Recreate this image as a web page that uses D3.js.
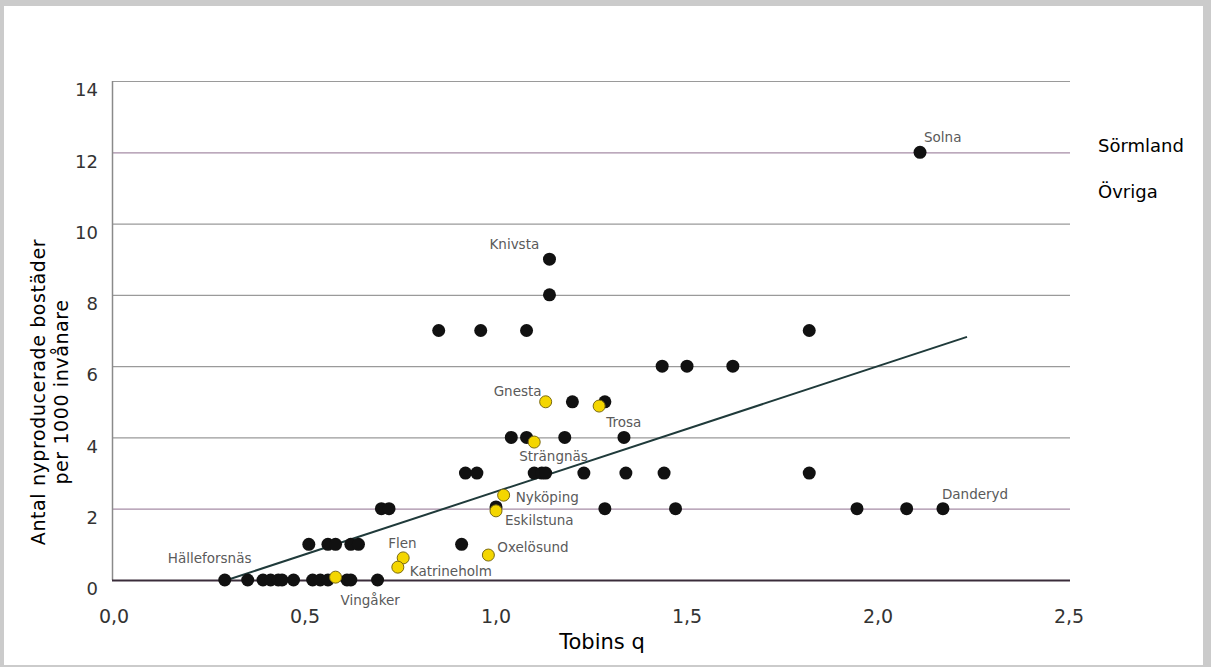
<!DOCTYPE html>
<html>
<head>
<meta charset="utf-8">
<script src="https://cdn.jsdelivr.net/npm/d3@7"></script>
<style>
  body { margin: 0; background: #cbcbcb; }
  svg { display: block; }
</style>
</head>
<body>
<div id="chart"></div>
<script>
// data
const xTicks = [0, 0.5, 1.0, 1.5, 2.0, 2.5]
const yTicks = [0, 2, 4, 6, 8, 10, 12, 14]

// Övriga (black) – [Tobins q, bostäder per 1000 inv]
const ovriga = [
  [0.29, 0], [0.35, 0], [0.39, 0], [0.41, 0], [0.43, 0], [0.44, 0], [0.47, 0],
  [0.52, 0], [0.54, 0], [0.56, 0], [0.61, 0], [0.62, 0], [0.69, 0],
  [0.51, 1], [0.56, 1], [0.58, 1], [0.62, 1], [0.64, 1], [0.91, 1],
  [0.70, 2], [0.72, 2], [1.00, 2.05], [1.285, 2], [1.47, 2], [1.945, 2], [2.075, 2], [2.17, 2],
  [0.92, 3], [0.95, 3], [1.10, 3], [1.12, 3], [1.13, 3], [1.23, 3], [1.34, 3], [1.44, 3], [1.82, 3],
  [1.04, 4], [1.08, 4], [1.18, 4], [1.335, 4],
  [1.20, 5], [1.285, 5],
  [1.435, 6], [1.50, 6], [1.62, 6],
  [0.85, 7], [0.96, 7], [1.08, 7], [1.82, 7],
  [1.14, 8], [1.14, 9], [2.11, 12]
]
const ovrigaNamed = [
  ["Hälleforsnäs", 0.29, 0], ["Knivsta", 1.14, 9], ["Solna", 2.11, 12], ["Danderyd", 2.17, 2]
]

// Sörmland (yellow)
const sormlandNames = ["Gnesta", "Trosa", "Strängnäs", "Nyköping", "Eskilstuna", "Oxelösund", "Flen", "Katrineholm", "Vingåker"]
const sormlandQ = [1.13, 1.27, 1.10, 1.02, 1.00, 0.98, 0.757, 0.743, 0.58]
const sormlandBost = [5.0, 4.88, 3.87, 2.38, 1.94, 0.70, 0.62, 0.36, 0.08]

const trend = [[0.296, 0], [2.233, 6.82]]
const legendLabels = ["Sörmland", "Övriga"]

// layout
const W = 1211, H = 667
const labelOffset = {
  "Hälleforsnäs": [-57, -22], "Vingåker": [5, 23], "Flen": [-15, -15],
  "Katrineholm": [12, 4], "Oxelösund": [9, -8], "Eskilstuna": [9, 9],
  "Nyköping": [12, 2], "Strängnäs": [-15, 14], "Trosa": [7, 16],
  "Gnesta": [-52, -11], "Knivsta": [-60, -15], "Solna": [4, -15], "Danderyd": [-1, -14]
}

const svg = d3.select("#chart").append("svg")
    .attr("width", W)
    .attr("height", H)

svg.append("rect")
    .attr("x", 4).attr("y", 6)
    .attr("width", 1199).attr("height", 659)
    .attr("fill", "#fff")

const x = d3.scaleLinear().domain([0, 2.5]).range([114, 1069])
const y = d3.scaleLinear().domain([0, 14]).range([580, 81])

// gridlines
svg.append("g").selectAll("line")
    .data(yTicks.filter(d => d > 0))
    .join("line")
    .attr("x1", 112).attr("x2", 1070)
    .attr("y1", d => y(d) + 0.5).attr("y2", d => y(d) + 0.5)
    .attr("stroke", d => (d === 12 || d === 2) ? "#a68ca6" : "#9a9a9a")
    .attr("stroke-width", 1.2)

// y axis line
svg.append("line")
    .attr("x1", 112.5).attr("x2", 112.5)
    .attr("y1", y(14)).attr("y2", y(0))
    .attr("stroke", "#8a8a8a")
    .attr("stroke-width", 1.5)

// x axis line
svg.append("line")
    .attr("x1", 112).attr("x2", 1070)
    .attr("y1", y(0) + 0.5).attr("y2", y(0) + 0.5)
    .attr("stroke", "#3a2c3a")
    .attr("stroke-width", 2)

// tick labels
svg.append("g").selectAll("text")
    .data(xTicks)
    .join("text")
    .attr("x", d => x(d))
    .attr("y", 623)
    .attr("text-anchor", "middle")
    .attr("font-family", "DejaVu Sans")
    .attr("font-size", 19)
    .attr("fill", "#333")
    .text(d => d3.format(".1f")(d).replace(".", ","))

svg.append("g").selectAll("text")
    .data(yTicks)
    .join("text")
    .attr("x", 98)
    .attr("y", d => y(d) + 9)
    .attr("dy", "0.35em")
    .attr("text-anchor", "end")
    .attr("font-family", "DejaVu Sans")
    .attr("font-size", 18)
    .attr("fill", "#333")
    .text(d => d)

// axis titles
svg.append("text")
    .attr("x", 602).attr("y", 649)
    .attr("text-anchor", "middle")
    .attr("font-family", "DejaVu Sans")
    .attr("font-size", 21)
    .attr("fill", "#000")
    .text("Tobins q")

const yTitle = svg.append("text")
    .attr("transform", "translate(0,392) rotate(-90)")
    .attr("text-anchor", "middle")
    .attr("font-family", "DejaVu Sans")
    .attr("font-size", 19)
    .attr("letter-spacing", 0.6)
    .attr("fill", "#000")
yTitle.append("tspan").attr("x", 0).attr("y", 45).text("Antal nyproducerade bostäder")
yTitle.append("tspan").attr("x", 0).attr("y", 68).text("per 1000 invånare")

// trend line
svg.append("path")
    .datum(trend)
    .attr("d", d3.line().x(d => x(d[0])).y(d => y(d[1])))
    .attr("fill", "none")
    .attr("stroke", "#1f3a3a")
    .attr("stroke-width", 2)

// points
svg.append("g").selectAll("circle")
    .data(ovriga)
    .join("circle")
    .attr("cx", d => x(d[0]))
    .attr("cy", d => y(d[1]))
    .attr("r", 6.5)
    .attr("fill", "#111")

const sormland = sormlandNames.map((n, i) => ({ name: n, q: sormlandQ[i], v: sormlandBost[i] }))

svg.append("g").selectAll("circle")
    .data(sormland)
    .join("circle")
    .attr("cx", d => x(d.q))
    .attr("cy", d => y(d.v))
    .attr("r", 6)
    .attr("fill", "#f4d600")
    .attr("stroke", "#7a6a10")
    .attr("stroke-width", 1)

// point labels
const named = ovrigaNamed.map(d => ({ name: d[0], q: d[1], v: d[2] })).concat(sormland)

svg.append("g").selectAll("text")
    .data(named)
    .join("text")
    .attr("x", d => x(d.q) + labelOffset[d.name][0])
    .attr("y", d => y(d.v) + labelOffset[d.name][1])
    .attr("dy", "0.35em")
    .attr("font-family", "DejaVu Sans")
    .attr("font-size", 13.5)
    .attr("fill", "#5a5a5a")
    .text(d => d.name)

// legend (text only, as in the picture)
svg.append("g").selectAll("text")
    .data(legendLabels)
    .join("text")
    .attr("x", 1098)
    .attr("y", (d, i) => 146 + i * 46)
    .attr("dy", "0.35em")
    .attr("font-family", "DejaVu Sans")
    .attr("font-size", 18)
    .attr("fill", "#000")
    .text(d => d)
</script>
</body>
</html>
